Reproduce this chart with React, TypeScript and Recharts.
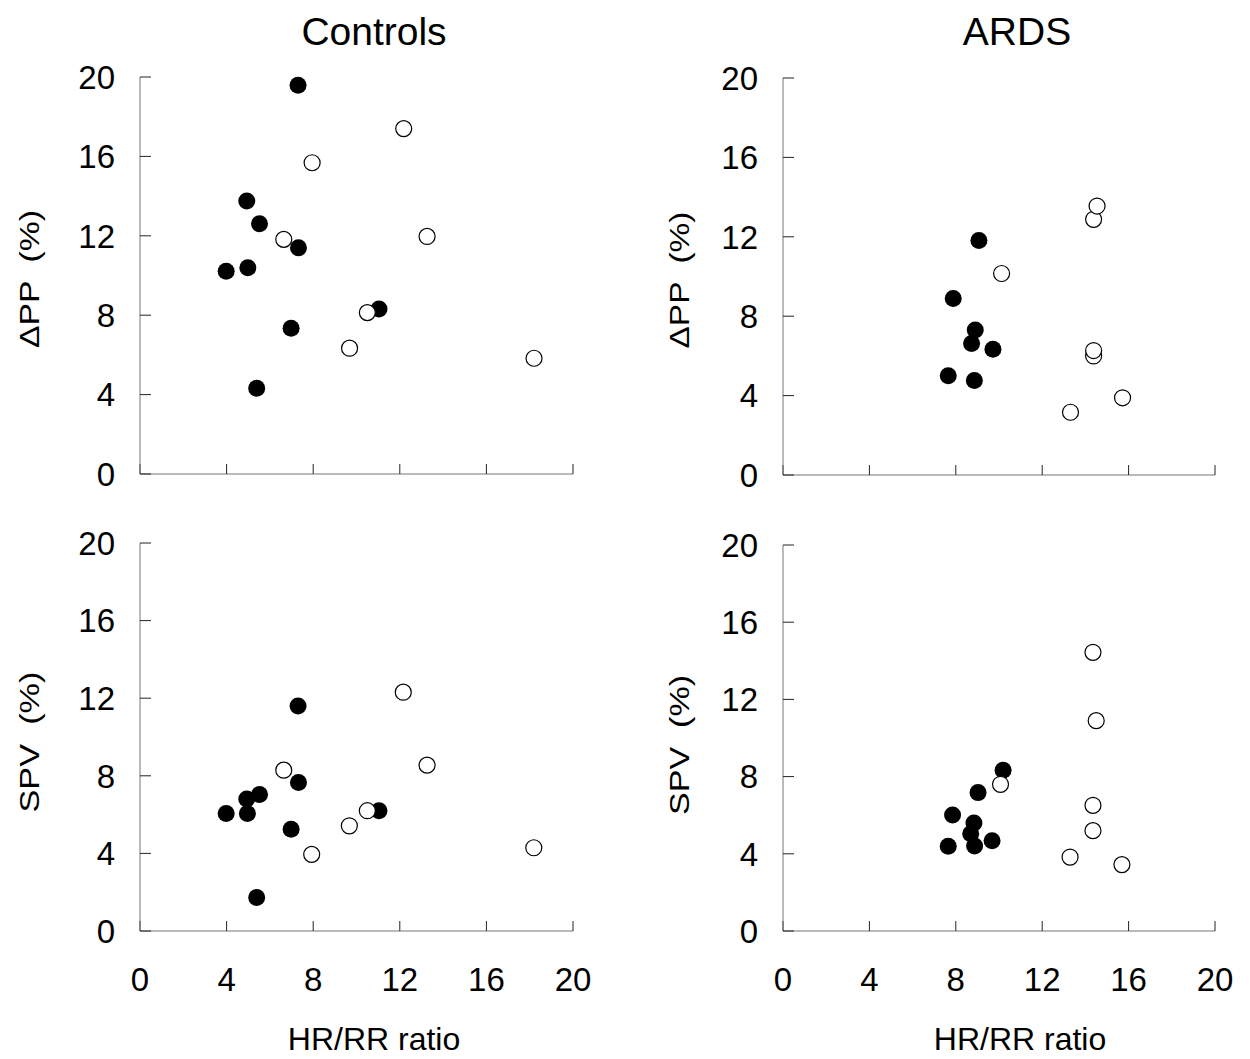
import { ScatterChart, Scatter, XAxis, YAxis } from 'recharts';

// axis ticks shared by every panel
const ticks = [0, 4, 8, 12, 16, 20];

// Controls, ΔPP vs HR/RR ratio
const ctrlPPFilled = [
  { x: 3.98, y: 10.21 }, { x: 4.93, y: 13.75 }, { x: 4.98, y: 10.39 },
  { x: 5.39, y: 4.32 }, { x: 5.52, y: 12.61 }, { x: 6.98, y: 7.34 },
  { x: 7.3, y: 19.58 }, { x: 7.32, y: 11.4 }, { x: 11.04, y: 8.31 },
];
const ctrlPPOpen = [
  { x: 6.64, y: 11.82 }, { x: 7.95, y: 15.68 }, { x: 9.68, y: 6.34 },
  { x: 10.5, y: 8.13 }, { x: 12.18, y: 17.4 }, { x: 13.26, y: 11.97 },
  { x: 18.2, y: 5.83 },
];

// Controls, SPV vs HR/RR ratio
const ctrlSPVFilled = [
  { x: 3.98, y: 6.06 }, { x: 4.93, y: 6.81 }, { x: 4.96, y: 6.06 },
  { x: 5.39, y: 1.73 }, { x: 5.52, y: 7.04 }, { x: 6.98, y: 5.24 },
  { x: 7.3, y: 11.6 }, { x: 7.32, y: 7.66 }, { x: 11.04, y: 6.2 },
];
const ctrlSPVOpen = [
  { x: 6.64, y: 8.29 }, { x: 7.93, y: 3.95 }, { x: 9.67, y: 5.42 },
  { x: 10.5, y: 6.2 }, { x: 12.16, y: 12.31 }, { x: 13.26, y: 8.55 },
  { x: 18.19, y: 4.29 },
];

// ARDS, ΔPP vs HR/RR ratio
const ardsPPFilled = [
  { x: 7.65, y: 5.0 }, { x: 7.88, y: 8.89 }, { x: 8.73, y: 6.63 },
  { x: 8.86, y: 4.76 }, { x: 8.9, y: 7.3 }, { x: 9.07, y: 11.81 },
  { x: 9.72, y: 6.34 },
];
const ardsPPOpen = [
  { x: 10.12, y: 10.15 }, { x: 13.31, y: 3.16 }, { x: 14.38, y: 6.0 },
  { x: 14.38, y: 6.27 }, { x: 14.38, y: 12.88 }, { x: 14.54, y: 13.55 },
  { x: 15.72, y: 3.89 },
];

// ARDS, SPV vs HR/RR ratio
const ardsSPVFilled = [
  { x: 7.65, y: 4.39 }, { x: 7.85, y: 6.01 }, { x: 8.69, y: 5.04 },
  { x: 8.84, y: 5.6 }, { x: 8.87, y: 4.4 }, { x: 9.03, y: 7.17 },
  { x: 9.68, y: 4.68 }, { x: 10.19, y: 8.33 },
];
const ardsSPVOpen = [
  { x: 10.07, y: 7.6 }, { x: 13.29, y: 3.83 }, { x: 14.35, y: 5.2 },
  { x: 14.35, y: 6.51 }, { x: 14.35, y: 14.44 }, { x: 14.5, y: 10.9 },
  { x: 15.69, y: 3.44 },
];

const FONT = '"Liberation Sans", Arial, Helvetica, sans-serif';

const filledDot = (p: any) => <circle cx={p.cx} cy={p.cy} r={8.5} fill="#000" />;
const openDot = (p: any) => (
  <circle cx={p.cx} cy={p.cy} r={8} fill="#fff" stroke="#000" strokeWidth={1.2} />
);

interface PanelProps {
  left: number;
  top: number;
  width: number;
  height: number;
  filled: { x: number; y: number }[];
  open: { x: number; y: number }[];
  showX: boolean;
}

function Panel({ left, top, width, height, filled, open, showX }: PanelProps) {
  const padL = 120, padT = 20, padR = 30, padB = 80;
  const tickStyle = { fill: '#000', fontSize: 33, fontFamily: FONT };
  return (
    <div style={{ position: 'absolute', left: left - padL, top: top - padT }}>
      <ScatterChart
        width={width + padL + padR}
        height={height + padT + padB}
        margin={{ top: padT, right: padR, left: 0, bottom: 0 }}
      >
        <XAxis
          type="number"
          dataKey="x"
          domain={[0, 20]}
          ticks={ticks}
          interval={0}
          height={padB}
          tickSize={-10}
          tickMargin={47}
          tick={tickStyle}
          tickFormatter={showX ? undefined : () => ''}
          axisLine={{ stroke: '#777' }}
          tickLine={{ stroke: '#222' }}
        />
        <YAxis
          type="number"
          dataKey="y"
          domain={[0, 20]}
          ticks={ticks}
          interval={0}
          width={padL}
          tickSize={-11}
          tickMargin={36}
          tick={tickStyle}
          axisLine={{ stroke: '#777' }}
          tickLine={{ stroke: '#222' }}
        />
        <Scatter data={filled} shape={filledDot} isAnimationActive={false} />
        <Scatter data={open} shape={openDot} isAnimationActive={false} />
      </ScatterChart>
    </div>
  );
}

// rotated y label, stretched along its length like the original
function YLabel({ x, y, text, len }: { x: number; y: number; text: string; len: number }) {
  return (
    <text
      x={x}
      y={y}
      textAnchor="middle"
      transform={`rotate(-90 ${x} ${y})`}
      fontSize={28}
      fontFamily={FONT}
      textLength={len}
      lengthAdjust="spacingAndGlyphs"
      style={{ whiteSpace: 'pre' }}
    >
      {text}
    </text>
  );
}

export default function App() {
  return (
    <div style={{ position: 'absolute', left: 0, top: 0, width: 1250, height: 1059, background: '#fff' }}>
      <Panel left={140} top={77} width={433} height={397} filled={ctrlPPFilled} open={ctrlPPOpen} showX={false} />
      <Panel left={783} top={78} width={432} height={397} filled={ardsPPFilled} open={ardsPPOpen} showX={false} />
      <Panel left={140} top={543} width={433} height={388} filled={ctrlSPVFilled} open={ctrlSPVOpen} showX={true} />
      <Panel left={783} top={545} width={432} height={386} filled={ardsSPVFilled} open={ardsSPVOpen} showX={true} />

      <svg width={1250} height={1059} style={{ position: 'absolute', left: 0, top: 0, pointerEvents: 'none' }}>
        <text x={374} y={45} textAnchor="middle" fontSize={39} fontFamily={FONT}>Controls</text>
        <text x={1017} y={45} textAnchor="middle" fontSize={39} fontFamily={FONT}>ARDS</text>

        <YLabel x={39} y={279} text={'ΔPP  (%)'} len={138} />
        <YLabel x={689} y={280} text={'ΔPP  (%)'} len={137} />
        <YLabel x={39} y={742} text={'SPV  (%)'} len={141} />
        <YLabel x={689} y={745} text={'SPV  (%)'} len={140} />

        <text x={374} y={1050} textAnchor="middle" fontSize={32} fontFamily={FONT}>HR/RR ratio</text>
        <text x={1020} y={1050} textAnchor="middle" fontSize={32} fontFamily={FONT}>HR/RR ratio</text>
      </svg>
    </div>
  );
}
